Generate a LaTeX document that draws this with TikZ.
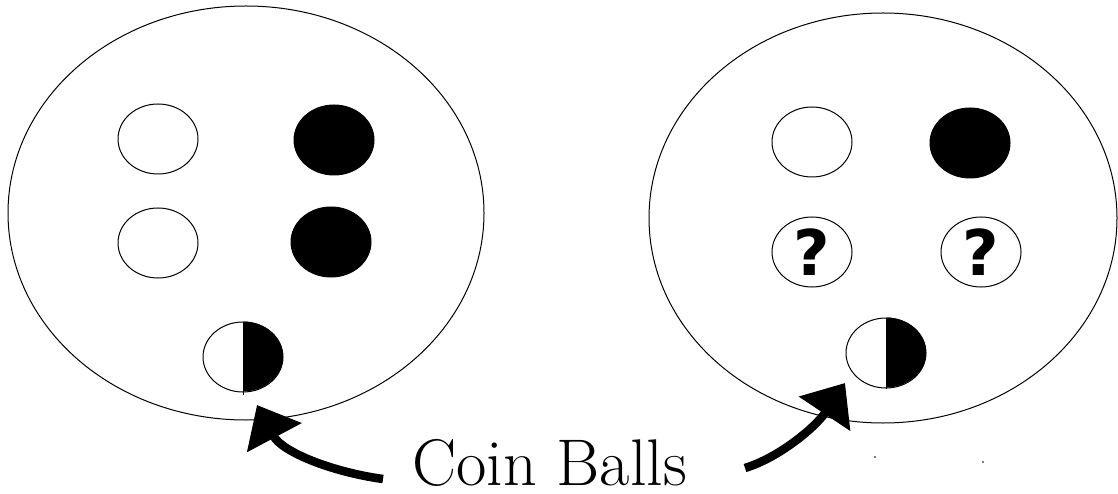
\documentclass[tikz,border=0pt]{standalone}
\usepackage{fontspec}
\newfontfamily\qfont{DejaVu Sans}
\usetikzlibrary{arrows.meta,shapes.geometric}
\begin{document}
\begin{tikzpicture}[x=1pt,y=-1pt,
  urn/.style={draw, ellipse, line width=1pt, inner sep=0pt},
  ball/.style={draw, ellipse, line width=1pt, minimum width=80pt, minimum height=70pt, inner sep=0pt},
  blackball/.style={ball, fill=black},
  qmark/.style={font=\qfont\bfseries\fontsize{63}{63}\selectfont},
  coinarrow/.style={line width=8.5pt, -{Triangle[length=37pt,width=60pt]}},
  speck/.style={fill=black, circle, inner sep=0pt, minimum size=1.6pt}]
\fill[white] (0,0) rectangle (1118,494);
\useasboundingbox (0,0) rectangle (1118,494);
% urns
\node[urn, minimum width=476pt, minimum height=414pt] (urnL) at (246,213) {};
\node[urn, minimum width=468pt, minimum height=410pt] (urnR) at (883,218) {};
% left urn balls
\node[ball] (wL1) at (158,139) {};
\node[blackball] (bL1) at (334,140) {};
\node[ball] (wL2) at (158,243) {};
\node[blackball] (bL2) at (331,242) {};
\node[ball] (coinL) at (243,357) {};
\fill[black] (coinL.north) arc[start angle=90, end angle=-90, x radius=40pt, y radius=35pt] -- cycle;
\draw[line width=1pt] (coinL.north) -- ([yshift=-2pt]coinL.south);
% right urn balls
\node[ball] (wR1) at (812,142) {};
\node[blackball] (bR1) at (970,143) {};
\node[ball, qmark] (qR1) at (812,252) {?};
\node[ball, qmark] (qR2) at (981,252) {?};
\node[ball] (coinR) at (886,353) {};
\fill[black] (coinR.north) arc[start angle=90, end angle=-90, x radius=40pt, y radius=35pt] -- cycle;
\draw[line width=1pt] (coinR.north) -- (coinR.south);
% label
\node[anchor=base west, inner sep=0pt, font=\fontsize{66}{66}\selectfont] (lbl) at (412,485) {Coin Balls};
% arrows
\coordinate (tailL) at (383,479);
\coordinate (tipL) at (257,405);
\coordinate (tailR) at (745,468);
\coordinate (tipR) at (845,383);
\draw[coinarrow] (tailL) .. controls (332,472) and (282,452) .. (tipL);
\draw[coinarrow] (tailR) .. controls (778,458) and (815,428) .. (tipR);
% specks
\node[speck] (s1) at (875,457) {};
\node[speck] (s2) at (983,462) {};
\end{tikzpicture}
\end{document}
